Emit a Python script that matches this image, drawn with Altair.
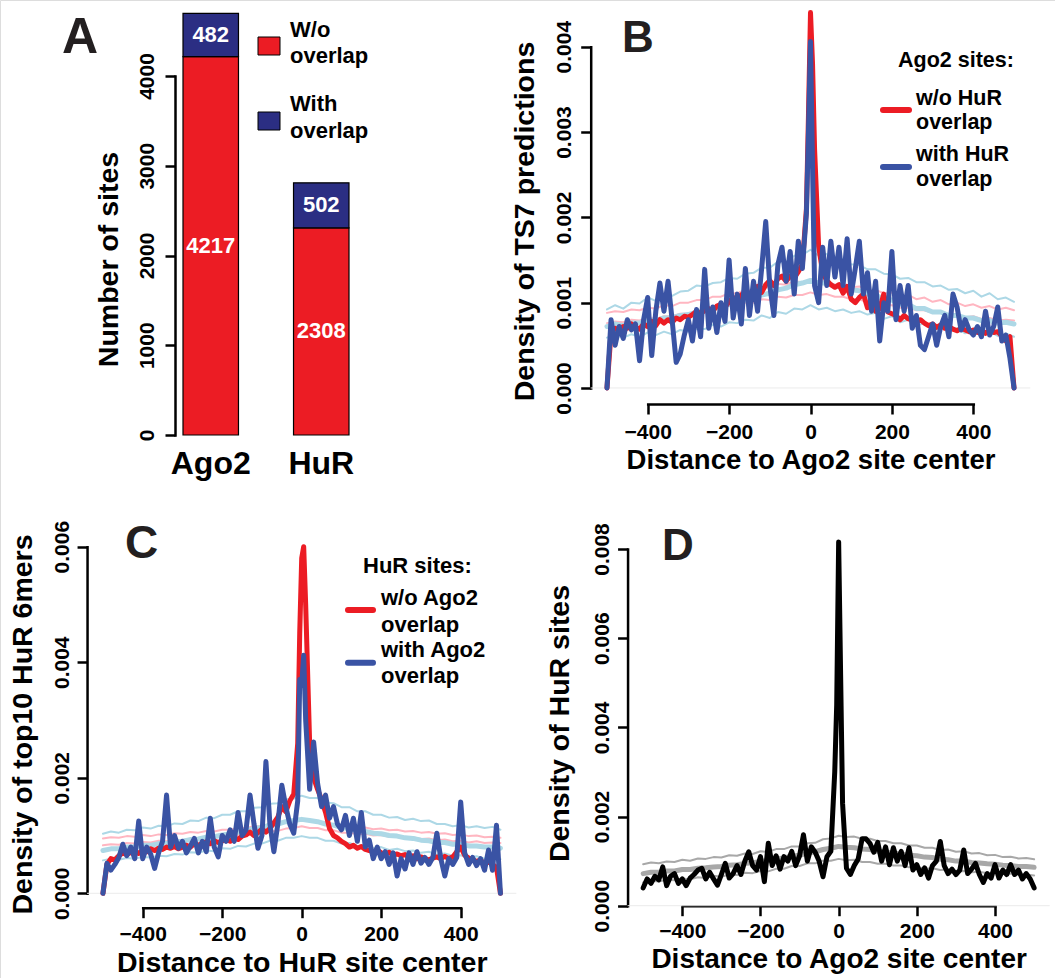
import altair as alt
import pandas as pd

FONT = "Liberation Sans"
RED = "#EC1C24"
NAVY = "#2B2E83"
BLUE = "#3A53A4"
LBLUE = "#ADD8E6"
PINK = "#FFB6C1"
GREY = "#A8A8A8"
INK = "#231F20"

# ---------------- Panel A data ----------------
A_CATS = ["Ago2", "HuR"]
A_GROUPS = ["W/o overlap", "With overlap"]
A_WITHOUT = [4217, 2308]
A_WITH = [482, 502]

# ---------------- x grids ----------------
X_MAIN = list(range(-500, -9, 10)) + [-5, 0, 5] + list(range(10, 501, 10))
X_ENV = list(range(-500, 501, 20))

# ---------------- Panel B (Ago2 sites, TS7 density) ----------------
B_RED = [
    0.0, 0.00065, 0.00070, 0.00068, 0.00072, 0.00070, 0.00075, 0.00071, 0.00069, 0.00075,
    0.00072, 0.00078, 0.00073, 0.00080, 0.00076, 0.00080, 0.00077, 0.00082, 0.00080, 0.00084,
    0.00083, 0.00086, 0.00090, 0.00087, 0.00091, 0.00093, 0.00090, 0.00096, 0.00098, 0.00095,
    0.00101, 0.00106, 0.00100, 0.00109, 0.00112, 0.00108, 0.00116, 0.00119, 0.00112, 0.00121,
    0.00126, 0.00120, 0.00128, 0.00131, 0.00125, 0.00131, 0.00129, 0.00136, 0.00145, 0.00210,
    0.00320, 0.00440, 0.00380,
    0.00280, 0.00166, 0.00135, 0.00126, 0.00121, 0.00118, 0.00121, 0.00111, 0.00119, 0.00104,
    0.00100, 0.00106, 0.00110, 0.00094, 0.00100, 0.00090, 0.00093, 0.00110, 0.00089, 0.00087,
    0.00085, 0.00080, 0.00085, 0.00081, 0.00080, 0.00077, 0.00080, 0.00076, 0.00073, 0.00075,
    0.00071, 0.00074, 0.00070, 0.00072, 0.00069, 0.00067, 0.00070, 0.00068, 0.00066, 0.00068,
    0.00065, 0.00068, 0.00064, 0.00068, 0.00065, 0.00066, 0.00061, 0.00055, 0.00060, 0.0,
]
B_BLUE = [
    0.0, 0.00080, 0.00050, 0.00072, 0.00058, 0.00080, 0.00068, 0.00075, 0.00032, 0.00080,
    0.00106, 0.00038, 0.00090, 0.00123, 0.00090, 0.00125, 0.00080, 0.00030, 0.00040, 0.00062,
    0.00080, 0.00055, 0.00092, 0.00060, 0.00139, 0.00070, 0.00095, 0.00065, 0.00100, 0.00078,
    0.00150, 0.00082, 0.00110, 0.00075, 0.00140, 0.00085, 0.00125, 0.00090, 0.00140, 0.00195,
    0.00120, 0.00085, 0.00145, 0.00165, 0.00125, 0.00160, 0.00110, 0.00172, 0.00140, 0.00205,
    0.00300, 0.00406, 0.00260,
    0.00120, 0.00100, 0.00165, 0.00120, 0.00172, 0.00130, 0.00165, 0.00120, 0.00175, 0.00110,
    0.00140, 0.00172, 0.00110, 0.00135, 0.00090, 0.00125, 0.00055, 0.00100, 0.00090, 0.00160,
    0.00080, 0.00120, 0.00090, 0.00120, 0.00070, 0.00085, 0.00050, 0.00045, 0.00060, 0.00075,
    0.00050, 0.00072, 0.00085, 0.00060, 0.00110, 0.00095, 0.00068, 0.00080, 0.00068, 0.00062,
    0.00072, 0.00060, 0.00090, 0.00062, 0.00072, 0.00095, 0.00055, 0.00062, 0.00035, 0.0,
]
B_LBU = [
    0.00092, 0.00097, 0.00093, 0.00100, 0.00099, 0.00106, 0.00102, 0.00110, 0.00108, 0.00113,
    0.00114, 0.00120, 0.00119, 0.00123, 0.00124, 0.00129, 0.00128, 0.00134, 0.00135, 0.00141,
    0.00141, 0.00148, 0.00148, 0.00155, 0.00156, 0.00162, 0.00155, 0.00157, 0.00150, 0.00151,
    0.00145, 0.00144, 0.00139, 0.00139, 0.00134, 0.00133, 0.00128, 0.00129, 0.00124, 0.00124,
    0.00119, 0.00120, 0.00115, 0.00116, 0.00111, 0.00114, 0.00107, 0.00111, 0.00104, 0.00106,
    0.00101,
]
B_LBM = [
    0.00072, 0.00075, 0.00073, 0.00076, 0.00076, 0.00079, 0.00079, 0.00082, 0.00082, 0.00085,
    0.00086, 0.00089, 0.00090, 0.00093, 0.00095, 0.00098, 0.00100, 0.00103, 0.00105, 0.00109,
    0.00111, 0.00115, 0.00117, 0.00121, 0.00123, 0.00126, 0.00123, 0.00123, 0.00119, 0.00119,
    0.00115, 0.00114, 0.00110, 0.00109, 0.00104, 0.00103, 0.00098, 0.00098, 0.00093, 0.00093,
    0.00089, 0.00089, 0.00085, 0.00085, 0.00082, 0.00082, 0.00079, 0.00079, 0.00076, 0.00077,
    0.00075,
]
B_LBL = [
    0.00059, 0.00062, 0.00059, 0.00063, 0.00060, 0.00065, 0.00062, 0.00066, 0.00063, 0.00068,
    0.00066, 0.00069, 0.00069, 0.00074, 0.00072, 0.00077, 0.00076, 0.00080, 0.00079, 0.00085,
    0.00082, 0.00089, 0.00087, 0.00093, 0.00092, 0.00097, 0.00092, 0.00094, 0.00090, 0.00092,
    0.00088, 0.00090, 0.00086, 0.00088, 0.00081, 0.00084, 0.00077, 0.00080, 0.00073, 0.00076,
    0.00070, 0.00073, 0.00067, 0.00070, 0.00064, 0.00068, 0.00062, 0.00066, 0.00061, 0.00064,
    0.00060,
]
B_PU = [
    0.00088, 0.00090, 0.00089, 0.00092, 0.00091, 0.00094, 0.00093, 0.00097, 0.00096, 0.00100,
    0.00100, 0.00103, 0.00103, 0.00107, 0.00107, 0.00111, 0.00111, 0.00115, 0.00114, 0.00118,
    0.00118, 0.00122, 0.00121, 0.00125, 0.00124, 0.00127, 0.00124, 0.00125, 0.00121, 0.00122,
    0.00118, 0.00119, 0.00114, 0.00115, 0.00111, 0.00112, 0.00107, 0.00109, 0.00104, 0.00106,
    0.00101, 0.00103, 0.00098, 0.00100, 0.00096, 0.00098, 0.00094, 0.00096, 0.00092, 0.00094,
    0.00091,
]
B_PL = [
    0.00076, 0.00078, 0.00077, 0.00080, 0.00079, 0.00082, 0.00081, 0.00084, 0.00084, 0.00087,
    0.00087, 0.00090, 0.00090, 0.00094, 0.00093, 0.00097, 0.00097, 0.00100, 0.00100, 0.00104,
    0.00103, 0.00107, 0.00106, 0.00109, 0.00109, 0.00112, 0.00109, 0.00110, 0.00107, 0.00107,
    0.00104, 0.00104, 0.00100, 0.00101, 0.00097, 0.00097, 0.00094, 0.00094, 0.00091, 0.00091,
    0.00088, 0.00088, 0.00085, 0.00086, 0.00083, 0.00084, 0.00081, 0.00082, 0.00079, 0.00080,
    0.00079,
]

# ---------------- Panel C (HuR sites, top10 HuR 6mers) ----------------
C_RED = [
    0.0, 0.00050, 0.00060, 0.00058, 0.00065, 0.00070, 0.00067, 0.00071, 0.00072, 0.00069,
    0.00075, 0.00072, 0.00077, 0.00074, 0.00078, 0.00076, 0.00080, 0.00078, 0.00081, 0.00077,
    0.00080, 0.00083, 0.00080, 0.00086, 0.00083, 0.00087, 0.00089, 0.00086, 0.00091, 0.00088,
    0.00091, 0.00093, 0.00090, 0.00096, 0.00093, 0.00099, 0.00101, 0.00106, 0.00100, 0.00105,
    0.00111, 0.00106, 0.00112, 0.00122, 0.00132, 0.00150, 0.00141, 0.00160, 0.00172, 0.00260,
    0.00450, 0.00580, 0.00600,
    0.00500, 0.00260, 0.00200, 0.00180, 0.00162, 0.00140, 0.00112, 0.00100, 0.00096, 0.00090,
    0.00086, 0.00080, 0.00083, 0.00078, 0.00081, 0.00076, 0.00074, 0.00072, 0.00075, 0.00070,
    0.00068, 0.00071, 0.00066, 0.00068, 0.00065, 0.00067, 0.00062, 0.00065, 0.00060, 0.00063,
    0.00060, 0.00058, 0.00061, 0.00063, 0.00060, 0.00064, 0.00060, 0.00063, 0.00072, 0.00080,
    0.00066, 0.00061, 0.00058, 0.00055, 0.00058, 0.00050, 0.00055, 0.00050, 0.00045, 0.0,
]
C_BLUE = [
    0.0, 0.00052, 0.00040, 0.00050, 0.00062, 0.00085, 0.00065, 0.00080, 0.00060, 0.00125,
    0.00060, 0.00080, 0.00068, 0.00043, 0.00070, 0.00090, 0.00170, 0.00080, 0.00100, 0.00078,
    0.00090, 0.00070, 0.00082, 0.00095, 0.00070, 0.00090, 0.00072, 0.00130, 0.00080, 0.00063,
    0.00100, 0.00090, 0.00110, 0.00090, 0.00140, 0.00100, 0.00110, 0.00170, 0.00120, 0.00078,
    0.00100, 0.00228, 0.00120, 0.00072, 0.00120, 0.00187, 0.00150, 0.00120, 0.00104, 0.00160,
    0.00370, 0.00360, 0.00412,
    0.00300, 0.00180, 0.00262, 0.00190, 0.00150, 0.00170, 0.00130, 0.00150, 0.00120, 0.00110,
    0.00135, 0.00100, 0.00130, 0.00090, 0.00140, 0.00080, 0.00092, 0.00060, 0.00080, 0.00060,
    0.00072, 0.00050, 0.00070, 0.00030, 0.00060, 0.00042, 0.00070, 0.00050, 0.00072, 0.00052,
    0.00062, 0.00050, 0.00062, 0.00104, 0.00060, 0.00030, 0.00060, 0.00050, 0.00062, 0.00158,
    0.00070, 0.00050, 0.00062, 0.00048, 0.00060, 0.00040, 0.00075, 0.00040, 0.00118, 0.0,
]
C_LBU = [
    0.00103, 0.00107, 0.00105, 0.00110, 0.00109, 0.00114, 0.00112, 0.00117, 0.00116, 0.00121,
    0.00120, 0.00126, 0.00125, 0.00131, 0.00130, 0.00136, 0.00136, 0.00142, 0.00142, 0.00148,
    0.00149, 0.00155, 0.00156, 0.00163, 0.00164, 0.00169, 0.00165, 0.00165, 0.00157, 0.00156,
    0.00149, 0.00149, 0.00142, 0.00142, 0.00136, 0.00136, 0.00131, 0.00132, 0.00127, 0.00129,
    0.00125, 0.00126, 0.00120, 0.00120, 0.00116, 0.00118, 0.00114, 0.00116, 0.00113, 0.00115,
    0.00110,
]
C_LBM = [
    0.00074, 0.00077, 0.00077, 0.00080, 0.00080, 0.00083, 0.00083, 0.00086, 0.00086, 0.00089,
    0.00090, 0.00093, 0.00094, 0.00097, 0.00098, 0.00101, 0.00103, 0.00106, 0.00108, 0.00112,
    0.00114, 0.00118, 0.00120, 0.00124, 0.00126, 0.00128, 0.00126, 0.00124, 0.00120, 0.00118,
    0.00114, 0.00112, 0.00108, 0.00107, 0.00104, 0.00103, 0.00100, 0.00099, 0.00096, 0.00095,
    0.00092, 0.00091, 0.00088, 0.00088, 0.00085, 0.00085, 0.00082, 0.00082, 0.00080, 0.00080,
    0.00078,
]
C_LBL = [
    0.00057, 0.00060, 0.00058, 0.00061, 0.00060, 0.00063, 0.00062, 0.00065, 0.00064, 0.00068,
    0.00067, 0.00071, 0.00070, 0.00074, 0.00073, 0.00078, 0.00077, 0.00082, 0.00081, 0.00086,
    0.00086, 0.00091, 0.00091, 0.00096, 0.00096, 0.00099, 0.00096, 0.00096, 0.00091, 0.00091,
    0.00086, 0.00087, 0.00082, 0.00083, 0.00078, 0.00080, 0.00075, 0.00077, 0.00073, 0.00074,
    0.00070, 0.00072, 0.00067, 0.00069, 0.00065, 0.00066, 0.00062, 0.00064, 0.00060, 0.00062,
    0.00059,
]
C_PU = [
    0.00095, 0.00097, 0.00096, 0.00099, 0.00098, 0.00101, 0.00099, 0.00102, 0.00101, 0.00104,
    0.00103, 0.00106, 0.00105, 0.00108, 0.00107, 0.00110, 0.00110, 0.00113, 0.00113, 0.00116,
    0.00116, 0.00120, 0.00120, 0.00124, 0.00125, 0.00129, 0.00126, 0.00125, 0.00120, 0.00120,
    0.00116, 0.00116, 0.00113, 0.00114, 0.00111, 0.00112, 0.00109, 0.00110, 0.00107, 0.00108,
    0.00105, 0.00106, 0.00103, 0.00104, 0.00101, 0.00102, 0.00099, 0.00100, 0.00097, 0.00098,
    0.00096,
]
C_PL = [
    0.00083, 0.00085, 0.00084, 0.00087, 0.00086, 0.00089, 0.00088, 0.00091, 0.00090, 0.00093,
    0.00092, 0.00095, 0.00094, 0.00097, 0.00096, 0.00099, 0.00098, 0.00101, 0.00101, 0.00104,
    0.00104, 0.00108, 0.00108, 0.00112, 0.00113, 0.00116, 0.00113, 0.00113, 0.00109, 0.00109,
    0.00105, 0.00105, 0.00102, 0.00103, 0.00100, 0.00101, 0.00098, 0.00099, 0.00096, 0.00097,
    0.00094, 0.00095, 0.00092, 0.00093, 0.00090, 0.00091, 0.00088, 0.00090, 0.00087, 0.00088,
    0.00087,
]

# ---------------- Panel D (HuR sites around Ago2 sites) ----------------
D_BLACK = [
    0.00040, 0.00060, 0.00050, 0.00066, 0.00058, 0.00087, 0.00045, 0.00066, 0.00072, 0.00050,
    0.00060, 0.00045, 0.00062, 0.00070, 0.00080, 0.00084, 0.00060, 0.00075, 0.00060, 0.00046,
    0.00070, 0.00095, 0.00062, 0.00072, 0.00090, 0.00070, 0.00100, 0.00121, 0.00090, 0.00080,
    0.00110, 0.00054, 0.00140, 0.00090, 0.00112, 0.00082, 0.00110, 0.00100, 0.00122, 0.00090,
    0.00112, 0.00159, 0.00100, 0.00132, 0.00120, 0.00100, 0.00065, 0.00110, 0.00122, 0.00300,
    0.00450, 0.00816, 0.00520,
    0.00230, 0.00084, 0.00070, 0.00090, 0.00105, 0.00150, 0.00150, 0.00140, 0.00120, 0.00142,
    0.00100, 0.00132, 0.00092, 0.00130, 0.00100, 0.00122, 0.00090, 0.00130, 0.00080, 0.00092,
    0.00070, 0.00085, 0.00062, 0.00090, 0.00100, 0.00144, 0.00090, 0.00072, 0.00082, 0.00070,
    0.00080, 0.00125, 0.00072, 0.00082, 0.00095, 0.00070, 0.00052, 0.00072, 0.00062, 0.00092,
    0.00062, 0.00080, 0.00070, 0.00092, 0.00070, 0.00080, 0.00060, 0.00072, 0.00060, 0.00040,
]
D_GU = [
    0.00093, 0.00097, 0.00095, 0.00099, 0.00098, 0.00103, 0.00101, 0.00106, 0.00105, 0.00109,
    0.00108, 0.00113, 0.00112, 0.00117, 0.00116, 0.00122, 0.00121, 0.00127, 0.00127, 0.00133,
    0.00133, 0.00140, 0.00141, 0.00149, 0.00151, 0.00157, 0.00154, 0.00155, 0.00150, 0.00150,
    0.00145, 0.00145, 0.00140, 0.00140, 0.00135, 0.00135, 0.00130, 0.00130, 0.00125, 0.00126,
    0.00121, 0.00122, 0.00117, 0.00118, 0.00113, 0.00114, 0.00109, 0.00110, 0.00106, 0.00107,
    0.00104,
]
D_GM = [
    0.00072, 0.00075, 0.00075, 0.00078, 0.00078, 0.00081, 0.00081, 0.00084, 0.00085, 0.00087,
    0.00088, 0.00091, 0.00092, 0.00095, 0.00096, 0.00100, 0.00101, 0.00105, 0.00107, 0.00111,
    0.00113, 0.00118, 0.00121, 0.00126, 0.00129, 0.00133, 0.00131, 0.00130, 0.00127, 0.00126,
    0.00122, 0.00121, 0.00118, 0.00116, 0.00113, 0.00112, 0.00109, 0.00108, 0.00104, 0.00103,
    0.00100, 0.00100, 0.00097, 0.00096, 0.00094, 0.00093, 0.00091, 0.00090, 0.00088, 0.00088,
    0.00086,
]
D_GL = [
    0.00052, 0.00056, 0.00054, 0.00058, 0.00057, 0.00061, 0.00059, 0.00064, 0.00062, 0.00067,
    0.00065, 0.00070, 0.00069, 0.00074, 0.00073, 0.00078, 0.00077, 0.00083, 0.00083, 0.00089,
    0.00089, 0.00095, 0.00095, 0.00101, 0.00101, 0.00105, 0.00102, 0.00103, 0.00098, 0.00098,
    0.00094, 0.00094, 0.00090, 0.00090, 0.00086, 0.00087, 0.00083, 0.00084, 0.00080, 0.00081,
    0.00077, 0.00078, 0.00075, 0.00076, 0.00073, 0.00074, 0.00071, 0.00072, 0.00069, 0.00070,
    0.00068,
]

for s in (B_RED, B_BLUE, C_RED, C_BLUE, D_BLACK):
    assert len(s) == len(X_MAIN), len(s)
for s in (B_LBU, B_LBM, B_LBL, B_PU, B_PL, C_LBU, C_LBM, C_LBL, C_PU, C_PL, D_GU, D_GM, D_GL):
    assert len(s) == len(X_ENV), len(s)

ONE = pd.DataFrame({"k": [0]})
MAIN_W = 5


def qs(domain, rng):
    return alt.Scale(domain=domain, range=rng, nice=False, zero=False)


COMMON_AX = dict(
    domain=True, domainColor="black", domainWidth=2.5, domainCap="square",
    ticks=True, tickColor="black", tickWidth=2.5, tickSize=10, grid=False,
    labelFont=FONT, labelFontSize=21, labelFontWeight="bold", labelColor="black",
    labelOverlap=False, labelFlush=False,
    titleFont=FONT, titleFontWeight="bold", titleColor="black",
)


def y_axis(offset, values, fmt, title, title_x, title_y, pad, tsize=28.5):
    return alt.Axis(orient="left", offset=offset, values=values, format=fmt, title=title,
                    labelAngle=270, labelAlign="center", labelBaseline="alphabetic",
                    labelPadding=pad, titleAngle=270, titleAlign="center",
                    titleBaseline="alphabetic", titleX=title_x, titleY=title_y,
                    titleFontSize=tsize, **COMMON_AX)


def x_axis(offset, title, title_y, pad, tsize=28.5):
    return alt.Axis(orient="bottom", offset=offset, values=[-400, -200, 0, 200, 400],
                    format="d", title=title, labelAngle=0, labelAlign="center",
                    labelBaseline="alphabetic", labelPadding=pad, titleAlign="center",
                    titleBaseline="alphabetic", titleY=title_y, titleFontSize=tsize,
                    **COMMON_AX)


def axis_layer(xs, ys, xax, yax, xdom, ydom):
    df = pd.DataFrame({"x": xdom, "y": ydom})
    return alt.Chart(df).mark_point(opacity=0).encode(
        x=alt.X("x:Q", scale=xs, axis=xax), y=alt.Y("y:Q", scale=ys, axis=yax))


def ln(df, col, xs, ys, color, w):
    return alt.Chart(df).mark_line(color=color, strokeWidth=w, strokeJoin="round",
                                   strokeCap="round").encode(
        x=alt.X("x:Q", scale=xs, axis=None), y=alt.Y(f"{col}:Q", scale=ys, axis=None))


def zero_line(xs, ys):
    return alt.Chart(ONE).mark_rule(color="#EBEBEB", strokeWidth=1).encode(
        x=alt.XDatum(-540, scale=xs, axis=None), x2=alt.X2Datum(540),
        y=alt.YDatum(0.0, scale=ys, axis=None))


# ---------------- Panel A ----------------
rows = []
for c, w, v in zip(A_CATS, A_WITHOUT, A_WITH):
    rows.append(dict(cat=c, grp=A_GROUPS[0], lo=0, hi=w, mid=w / 2, val=w))
    rows.append(dict(cat=c, grp=A_GROUPS[1], lo=w, hi=w + v, mid=w + v / 2, val=v))
dfA = pd.DataFrame(rows)

A_X = alt.Scale(domain=A_CATS, range=[175, 357], paddingInner=0.498, paddingOuter=0.0724)
A_Y = qs([0, 4750], [435, 8.7])
A_XAX = alt.Axis(orient="bottom", offset=-543, domain=False, ticks=False, tickSize=0,
                 labelPadding=38, labelBaseline="alphabetic", labelAngle=0, title=None,
                 labelFont=FONT, labelFontSize=32, labelFontWeight="bold", labelColor="black")
A_bars = alt.Chart(dfA).mark_bar(stroke="black", strokeWidth=1.2).encode(
    x=alt.X("cat:N", scale=A_X, axis=A_XAX),
    y=alt.Y("lo:Q", scale=A_Y, axis=None), y2="hi:Q",
    color=alt.Color("grp:N", scale=alt.Scale(domain=A_GROUPS, range=[RED, NAVY]), legend=None))
A_text = alt.Chart(dfA).mark_text(color="white", font=FONT, fontSize=22, fontWeight="bold",
                                  baseline="middle").encode(
    x=alt.X("cat:N", scale=A_X, axis=A_XAX),
    y=alt.Y("mid:Q", scale=A_Y, axis=None), text="val:Q")
A_data = alt.layer(A_bars, A_text)
A_axis = alt.Chart(pd.DataFrame({"y": [0, 4000]})).mark_point(opacity=0).encode(
    y=alt.Y("y:Q", scale=qs([0, 4000], [435, 76.0]),
            axis=y_axis(-175, [0, 1000, 2000, 3000, 4000], "d", "Number of sites",
                        -58, 259, 11.5)))

# ---------------- Panel B ----------------
dfB = pd.DataFrame({"x": X_MAIN, "red": B_RED, "blue": B_BLUE})
dfBe = pd.DataFrame({"x": X_ENV, "lbu": B_LBU, "lbm": B_LBM, "lbl": B_LBL, "pu": B_PU, "pl": B_PL})
B_XD = qs([-540, 540], [590.7, 1030.3])
B_YD = qs([-0.000188, 0.0045], [404.0, 4.04])
B_axis = axis_layer(
    qs([-400, 400], [647.7, 973.3]), qs([0, 0.004], [388.0, 46.7]),
    x_axis(-574, "Distance to Ago2 site center", 64, 24, 27.5),
    y_axis(-590.7, [0, 0.001, 0.002, 0.003, 0.004], ".3f", "Density of TS7 predictions",
           -57.4, 221, 10.7),
    [-400, 400], [0, 0.004])
B_data = alt.layer(
    zero_line(B_XD, B_YD),
    ln(dfBe, "lbu", B_XD, B_YD, LBLUE, 2), ln(dfBe, "lbl", B_XD, B_YD, LBLUE, 2),
    ln(dfBe, "pu", B_XD, B_YD, PINK, 2), ln(dfBe, "pl", B_XD, B_YD, PINK, 2),
    ln(dfBe, "lbm", B_XD, B_YD, LBLUE, 5),
    ln(dfB, "red", B_XD, B_YD, RED, MAIN_W), ln(dfB, "blue", B_XD, B_YD, BLUE, MAIN_W))

# ---------------- Panel C ----------------
dfC = pd.DataFrame({"x": X_MAIN, "red": C_RED, "blue": C_BLUE})
dfCe = pd.DataFrame({"x": X_ENV, "lbu": C_LBU, "lbm": C_LBM, "lbl": C_LBL, "pu": C_PU, "pl": C_PL})
C_XD = qs([-540, 540], [87.05, 516.35])
C_YD = qs([-0.00025, 0.0062], [907.74, 535.15])
C_axis = axis_layer(
    qs([-400, 400], [142.7, 460.7]), qs([0, 0.006], [893.3, 546.7]),
    x_axis(-70.3, "Distance to HuR site center", 64, 22.3),
    y_axis(-87.05, [0, 0.002, 0.004, 0.006], ".3f", "Density of top10 HuR 6mers",
           -55.4, 724, 8.7),
    [-400, 400], [0, 0.006])
C_data = alt.layer(
    zero_line(C_XD, C_YD),
    ln(dfCe, "lbu", C_XD, C_YD, LBLUE, 2), ln(dfCe, "lbl", C_XD, C_YD, LBLUE, 2),
    ln(dfCe, "pu", C_XD, C_YD, PINK, 2), ln(dfCe, "pl", C_XD, C_YD, PINK, 2),
    ln(dfCe, "lbm", C_XD, C_YD, LBLUE, 5),
    ln(dfC, "red", C_XD, C_YD, RED, MAIN_W), ln(dfC, "blue", C_XD, C_YD, BLUE, MAIN_W))

# ---------------- Panel D ----------------
dfD = pd.DataFrame({"x": X_MAIN, "black": D_BLACK})
dfDe = pd.DataFrame({"x": X_ENV, "gu": D_GU, "gm": D_GM, "gl": D_GL})
D_XD = qs([-540, 540], [627.56, 1049.74])
D_YD = qs([0, 0.0084], [905.7, 531.2])
D_axis = axis_layer(
    qs([-400, 400], [682.3, 995.0]), qs([0, 0.008], [905.7, 549.0]),
    x_axis(-72.3, "Distance to Ago2 site center", 61.3, 22, 28),
    y_axis(-627.56, [0, 0.002, 0.004, 0.006, 0.008], ".3f", "Density of HuR sites",
           -59.3, 723, 9.3),
    [-400, 400], [0, 0.008])
D_data = alt.layer(
    zero_line(D_XD, D_YD),
    ln(dfDe, "gu", D_XD, D_YD, GREY, 2), ln(dfDe, "gl", D_XD, D_YD, GREY, 2),
    ln(dfDe, "gm", D_XD, D_YD, GREY, 5),
    ln(dfD, "black", D_XD, D_YD, "black", MAIN_W))


# ---------------- annotations ----------------
def txt(t, x, y, size, color=INK, align="left"):
    return alt.Chart(ONE).mark_text(text=t, x=x, y=y, fontSize=size, font=FONT,
                                    fontWeight="bold", color=color, align=align,
                                    baseline="alphabetic")


def swatch(x1, x2, y, color):
    return alt.Chart(ONE).mark_rule(color=color, strokeWidth=6, strokeCap="round").encode(
        x=alt.value(x1), x2=alt.value(x2), y=alt.value(y))


def box(x1, x2, y1, y2, color):
    return alt.Chart(ONE).mark_rect(color=color, stroke="black", strokeWidth=1).encode(
        x=alt.value(x1), x2=alt.value(x2), y=alt.value(y1), y2=alt.value(y2))


notes = [
    txt("A", 62, 53, 50), txt("B", 622, 52, 44), txt("C", 125, 558, 46), txt("D", 662, 560, 44),
    box(258, 280, 37, 55, RED), box(258, 280, 112, 130, NAVY),
    txt("W/o", 290, 36.7, 22, "black"), txt("overlap", 290, 63.3, 22, "black"),
    txt("With", 290, 111, 22, "black"), txt("overlap", 290, 137.7, 22, "black"),
    txt("Ago2 sites:", 898, 67, 21.5, "black"),
    swatch(883, 909, 110, RED), swatch(883, 909, 167, BLUE),
    txt("w/o HuR", 916, 105, 21.5, "black"), txt("overlap", 916, 129.3, 21.5, "black"),
    txt("with HuR", 916, 161, 21.5, "black"), txt("overlap", 916, 185.5, 21.5, "black"),
    txt("HuR sites:", 363, 572.7, 22, "black"),
    swatch(348, 373, 610, RED), swatch(348, 373, 662.7, BLUE),
    txt("w/o Ago2", 381, 605, 22, "black"), txt("overlap", 381, 631.7, 22, "black"),
    txt("with Ago2", 381, 656.7, 22, "black"), txt("overlap", 381, 683.3, 22, "black"),
]

chart = alt.layer(
    A_data, A_axis, B_data, B_axis, C_data, C_axis, D_data, D_axis, *notes
).resolve_scale(
    x="independent", y="independent", color="independent"
).resolve_axis(
    x="independent", y="independent"
).properties(
    width=1055, height=978, padding=0, autosize=alt.AutoSizeParams(type="none")
).configure_view(stroke=None).configure(background="white")

chart.save("out.html", embed_options={"renderer": "svg", "actions": False})
